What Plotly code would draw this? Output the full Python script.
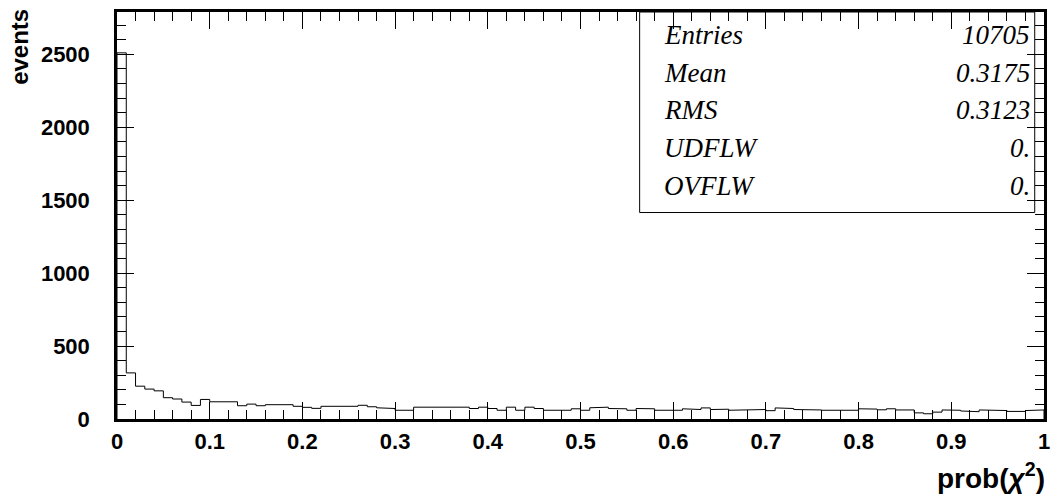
import numpy as np
import plotly.graph_objects as go

# ---- data ----
counts = [2510, 316, 225, 205, 193, 146, 137, 116, 93, 134,
          118, 118, 118, 91, 102, 91, 98, 98, 98, 87,
          80, 73, 87, 87, 87, 87, 94, 84, 77, 72,
          60, 60, 81, 81, 84, 84, 81, 81, 72, 81,
          72, 60, 81, 60, 81, 72, 60, 57, 60, 70,
          60, 77, 81, 72, 70, 60, 72, 70, 60, 60,
          60, 70, 65, 76, 65, 67, 60, 60, 65, 65,
          57, 76, 72, 65, 67, 62, 60, 60, 60, 60,
          70, 68, 63, 70, 62, 62, 42, 36, 47, 62,
          60, 55, 50, 62, 61, 58, 52, 52, 58, 62]
x_min, x_max = 0.0, 1.0
x_tick_vals = [0, 0.1, 0.2, 0.3, 0.4, 0.5, 0.6, 0.7, 0.8, 0.9, 1.0]
x_tick_text = ["0", "0.1", "0.2", "0.3", "0.4", "0.5", "0.6", "0.7", "0.8", "0.9", "1"]
y_tick_vals = [0, 500, 1000, 1500, 2000, 2500]
y_max = 2790
stat_names = ["Entries", "Mean", "RMS", "UDFLW", "OVFLW"]
stat_values = ["10705", "0.3175", "0.3123", "0.", "0."]

edges = np.linspace(x_min, x_max, len(counts) + 1)
xs = np.repeat(edges, 2)
ys = np.concatenate([[0], np.repeat(counts, 2), [0]])

fig = go.Figure()
fig.add_trace(go.Scatter(x=xs, y=ys, mode="lines",
                         line=dict(color="black", width=1), hoverinfo="skip",
                         showlegend=False))

tickfont = dict(family="Liberation Sans, Arial, sans-serif", size=22, color="black", weight="bold")
ax_common = dict(showgrid=False, zeroline=False, showline=True, linecolor="black",
                 linewidth=2.5, mirror="allticks", ticks="inside", tickcolor="black",
                 tickwidth=1, ticklen=17, tickfont=tickfont)

fig.update_xaxes(range=[x_min, x_max], tickmode="array", tickvals=x_tick_vals,
                 ticktext=x_tick_text, ticklabelstandoff=1,
                 minor=dict(dtick=0.02, tick0=0, ticks="inside", ticklen=9,
                            tickcolor="black", tickwidth=1),
                 **ax_common)
fig.update_yaxes(range=[0, y_max], tickmode="array", tickvals=y_tick_vals,
                 ticklabelstandoff=20,
                 minor=dict(dtick=100, tick0=0, ticks="inside", ticklen=9,
                            tickcolor="black", tickwidth=1),
                 **ax_common)

# stats box (layout positions in pixels of the plot area)
plot_top, plot_bot = 9.0, 419.0
def py(ypx):
    return (plot_bot - ypx) / (plot_bot - plot_top)

box_x0, box_x1 = 0.5638, 0.990
box_y0, box_y1 = py(211), 1.0
fig.add_shape(type="rect", xref="paper", yref="paper", x0=box_x0, x1=box_x1,
              y0=box_y0, y1=box_y1, line=dict(color="black", width=1),
              fillcolor="rgba(0,0,0,0)")
statfont = dict(family="Liberation Serif, Times New Roman, serif", size=27,
                color="black", style="italic")
row_px = [32, 70, 108, 146, 184]
for nm, vv, rp in zip(stat_names, stat_values, row_px):
    yc = py(rp)
    fig.add_annotation(x=box_x0 + 0.0236, y=yc, xref="paper", yref="paper",
                       text=nm, showarrow=False, xanchor="left", yanchor="middle",
                       font=statfont)
    fig.add_annotation(x=box_x1 - 0.003, y=yc, xref="paper", yref="paper",
                       text=vv, showarrow=False, xanchor="right", yanchor="middle",
                       font=statfont)

# axis titles
titlefont = dict(family="Liberation Sans, Arial, sans-serif", color="black", weight="bold")
fig.add_annotation(x=-0.106, y=1.012, xref="paper", yref="paper", text="<b>events</b>",
                   textangle=-90, showarrow=False, xanchor="center", yanchor="top",
                   font=dict(size=24, **titlefont))
fig.add_annotation(x=1.003, y=-0.092, xref="paper", yref="paper",
                   text="<b>prob(<i>χ</i><sup>2</sup>)</b>", showarrow=False,
                   xanchor="right", yanchor="top", font=dict(size=28, **titlefont))

fig.update_layout(width=1059, height=497, paper_bgcolor="white", plot_bgcolor="white",
                  margin=dict(l=117, r=9, t=9, b=78), showlegend=False)

fig.write_html("out.html")
